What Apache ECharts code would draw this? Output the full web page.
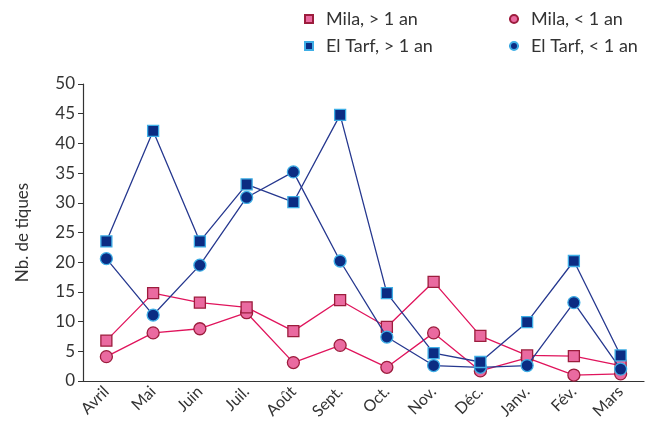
<!DOCTYPE html>
<html><head><meta charset="utf-8">
<script src="https://cdn.jsdelivr.net/npm/echarts@6/dist/echarts.min.js"></script>
<style>html,body{margin:0;padding:0;background:#fff}#c{width:649px;height:433px}</style>
</head><body><div id="c"></div>
<script>
var months = ['Avril','Mai','Juin','Juil.','Août','Sept.','Oct.','Nov.','Déc.','Janv.','Fév.','Mars'];
var yTicks = [0,5,10,15,20,25,30,35,40,45,50];
var milaOver1 = [6.8,14.8,13.2,12.4,8.4,13.6,9.1,16.7,7.6,4.3,4.2,2.6];
var milaUnder1 = [4.1,8.1,8.8,11.5,3.1,6.0,2.3,8.1,1.7,3.9,1.0,1.2];
var tarfOver1 = [23.5,42.1,23.5,33.1,30.1,44.8,14.8,4.7,3.2,9.9,20.2,4.3];
var tarfUnder1 = [20.6,11.1,19.5,30.9,35.2,20.2,7.4,2.6,2.3,2.6,13.2,2.0];
var names = ['Mila, > 1 an','Mila, < 1 an','El Tarf, > 1 an','El Tarf, < 1 an'];

var FONT = 'Lato';
var pinkLine = '#e0145c', pinkFill = '#ea6aa0', pinkBorder = '#9c1d3d';
var blueLine = '#26388f', blueFill = '#0b2c83', blueBorder = '#3eaee6';

function mk(name, data, symbol, line, fill, border, z){
  return {name:name, type:'line', data:data, symbol:symbol, symbolSize: symbol==='rect'?11:12,
    z:z, lineStyle:{color:line,width:1.3}, itemStyle:{color:fill,borderColor:border,borderWidth:1.3},
    emphasis:{disabled:true}, animation:false};
}
function leg(name, left, top){
  return {data:[name], left:left, top:top, itemWidth:10, itemHeight:10, itemGap:0,
    textStyle:{fontFamily:FONT,fontSize:18,color:'#333',padding:[0,0,0,7]}, selectedMode:false};
}
var chart = echarts.init(document.getElementById('c'), null, {renderer:'canvas'});
chart.setOption({
  animation:false,
  grid:{left:83,right:5,top:84,bottom:52,containLabel:false},
  legend:[leg(names[0],298,5), leg(names[1],503,5), leg(names[2],298,32), leg(names[3],503,32)],
  xAxis:{type:'category',data:months,boundaryGap:true,
    axisLine:{lineStyle:{color:'#333',width:1.2}},
    axisTick:{alignWithLabel:true,length:5,lineStyle:{color:'#333'}},
    axisLabel:{rotate:45,fontFamily:FONT,fontSize:16,color:'#333',margin:8,interval:0}},
  yAxis:{type:'value',min:yTicks[0],max:yTicks[yTicks.length-1],interval:5,
    name:'Nb. de tiques',nameLocation:'middle',nameGap:52,nameRotate:90,
    nameTextStyle:{fontFamily:FONT,fontSize:17,color:'#333'},
    axisLine:{show:true,lineStyle:{color:'#333',width:1.2}},
    axisTick:{show:true,length:5,lineStyle:{color:'#333'}},
    splitLine:{show:false},
    axisLabel:{fontFamily:FONT,fontSize:17,color:'#333',margin:8}},
  series:[
    mk(names[0],milaOver1,'rect',pinkLine,pinkFill,pinkBorder,3),
    mk(names[1],milaUnder1,'circle',pinkLine,pinkFill,pinkBorder,2),
    mk(names[2],tarfOver1,'rect',blueLine,blueFill,blueBorder,5),
    mk(names[3],tarfUnder1,'circle',blueLine,blueFill,blueBorder,4)
  ]
});
</script></body></html>
